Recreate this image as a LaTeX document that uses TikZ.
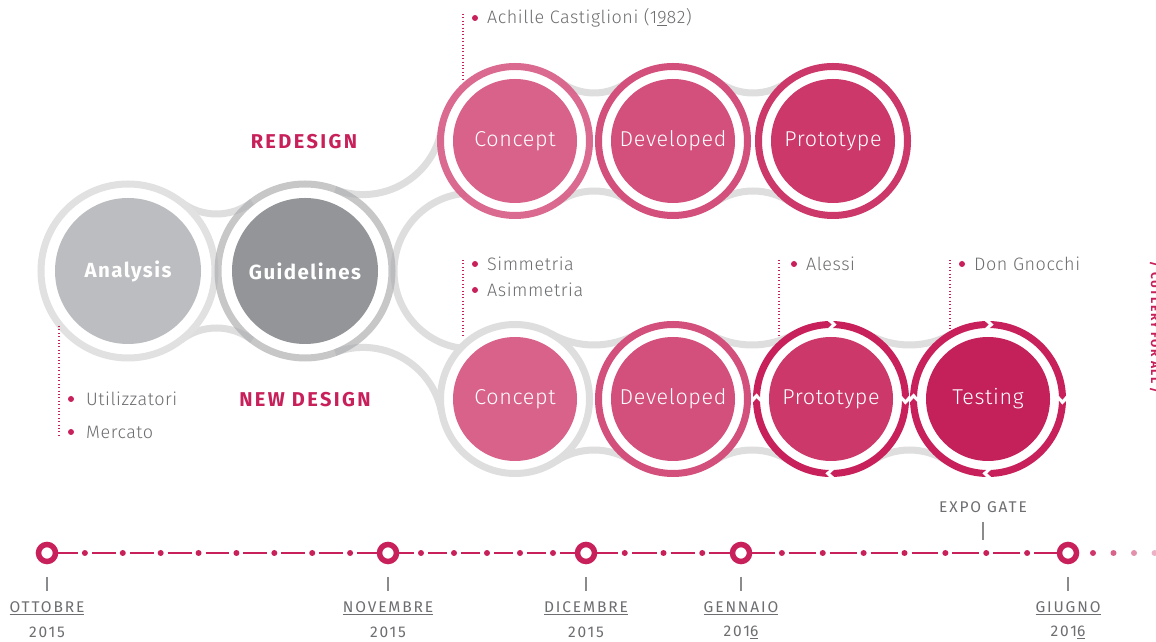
\documentclass[tikz,border=0pt]{standalone}
\usepackage{fontspec}
\setmainfont{Fira Sans}
\IfFontExistsTF{Fira Sans Light}{\newfontfamily\lightfont{Fira Sans Light}}{\newfontfamily\lightfont{Fira Sans}}
\usetikzlibrary{calc}
\definecolor{crimson}{HTML}{C8205A}
\definecolor{txtgray}{HTML}{6D6E71}
\definecolor{pipegray}{HTML}{DEDEDF}
\definecolor{anaring}{HTML}{E1E1E2}
\definecolor{anafill}{HTML}{BCBDC0}
\definecolor{guiring}{HTML}{A9AAAC}
\definecolor{guifill}{HTML}{939598}
\definecolor{pkA}{HTML}{D9628A}
\definecolor{pkB}{HTML}{D34F7C}
\definecolor{pkC}{HTML}{CB3869}
\definecolor{pkD}{HTML}{C4205A}
\definecolor{tickgray}{HTML}{8A8B8D}

% neck arcs between two beads on one row: x1 x2 y R htop hbot
\newcommand\pipeneck[6]{%
  \pgfmathsetmacro\nhd{(#2-#1)/2}%
  \pgfmathsetmacro\nxm{(#1+#2)/2}%
  \pgfmathsetmacro\nrt{(\nhd*\nhd+#5*#5-#4*#4)/(2*(#4-#5))}%
  \pgfmathsetmacro\nat{atan((#5+\nrt)/\nhd)}%
  \draw[pipe] (\nxm,{#3+#5+\nrt}) ++({180+\nat}:\nrt) arc[start angle={180+\nat}, end angle={360-\nat}, radius=\nrt];
  \pgfmathsetmacro\nrb{(\nhd*\nhd+#6*#6-#4*#4)/(2*(#4-#6))}%
  \pgfmathsetmacro\nab{atan((#6+\nrb)/\nhd)}%
  \draw[pipe] (\nxm,{#3-#6-\nrb}) ++({180-\nab}:\nrb) arc[start angle={180-\nab}, end angle={\nab}, radius=\nrb];
}
% segmented ring with arrow ends (clockwise)
\newcommand\arrowring[2]{%
  \begin{scope}[shift={(#1)}]
  \foreach \g in {90,0,-90,-180}{
    \pgfmathsetmacro\sa{\g-1.5}
    \pgfmathsetmacro\sb{\g-90+2.5}
    \fill[#2] (\sa:78) arc[start angle=\sa, end angle=\sb, radius=78] -- ({\sb-3}:74.5) -- (\sb:71) arc[start angle=\sb, end angle=\sa, radius=71] -- ({\sa-3}:74.5) -- cycle;
  }
  \end{scope}}

\begin{document}
\begin{tikzpicture}[x=1pt,y=1pt,
  pipe/.style={draw=pipegray, line width=7},
  ring/.style={line width=7},
  disc/.style={circle, inner sep=0pt},
  boldtxt/.style={text=white, font=\bfseries\fontsize{20.5}{24}\selectfont\addfontfeature{LetterSpace=7}},
  thintxt/.style={text=white, font=\lightfont\fontsize{21.5}{25}\selectfont\addfontfeature{LetterSpace=3}},
  section/.style={text=crimson, font=\bfseries\fontsize{20}{24}\selectfont\addfontfeature{LetterSpace=12}},
  note/.style={anchor=west, text=txtgray, font=\lightfont\fontsize{18}{21}\selectfont\addfontfeature{LetterSpace=3}, inner sep=0pt},
  dotline/.style={draw=crimson, line width=1.1, dash pattern=on 1.1 off 2.3},
  bullet/.style={fill=crimson},
  tl/.style={draw=crimson, line width=2.2},
  marker/.style={circle, draw=crimson, line width=5.5, fill=white, minimum size=17, inner sep=0pt},
  tick/.style={draw=tickgray, line width=1.2},
  tlabel/.style={text=txtgray, font=\fontsize{15.5}{18}\selectfont\addfontfeature{LetterSpace=12}, inner sep=0pt}
]
\useasboundingbox (0,0) rectangle (1156,642);
\clip (0,0) rectangle (1156,642);
\fill[white] (0,0) rectangle (1156,642);

% centres
\coordinate (A) at (128,371);
\coordinate (G) at (305,371);
\coordinate (C1) at (515,501);
\coordinate (D1) at (673,501);
\coordinate (P1) at (833,501);
\coordinate (C2) at (515,243);
\coordinate (D2) at (673,243);
\coordinate (P2) at (831,243);
\coordinate (T2) at (988,243);

% ---- grey pipes
\pipeneck{128}{305}{371}{87}{57}{57}
\pipeneck{515}{673}{501}{74.5}{48}{50}
\pipeneck{673}{833}{501}{74.5}{48}{50}
\pipeneck{515}{673}{243}{74.5}{54}{51}
\pipeneck{673}{831}{243}{74.5}{54}{51}
\pipeneck{831}{988}{243}{74.5}{54}{51}
\draw[pipe] (363,527.4) ++(249.65:80) arc[start angle=249.65, end angle=350.15, radius=80];
\draw[pipe] (363,214.6) ++(110.35:80) arc[start angle=110.35, end angle=9.85, radius=80];
\draw[pipe] (472,371) ++(94:78) arc[start angle=94, end angle=266, radius=78];

% ---- left group
\fill[white] (A) circle[radius=83.5];
\draw[ring, anaring] (A) circle[radius=87];
\node[disc, fill=anafill, minimum size=146, boldtxt] (analysis) at (A) {Analysis};
\fill[white] (G) circle[radius=83.5];
\draw[ring, guiring, opacity=.65] (G) circle[radius=87];
\node[disc, fill=guifill, minimum size=146, boldtxt] (guidelines) at (G) {Guidelines};

% ---- redesign row
\fill[white] (C1) circle[radius=71];
\draw[ring, pkA, opacity=.95] (C1) circle[radius=74.5];
\node[disc, fill=pkA, minimum size=124, thintxt] (concept1) at (C1) {Concept};
\fill[white] (D1) circle[radius=71];
\draw[ring, pkB] (D1) circle[radius=74.5];
\node[disc, fill=pkB, minimum size=124, thintxt] (developed1) at (D1) {Developed};
\fill[white] (P1) circle[radius=71];
\draw[ring, pkC] (P1) circle[radius=74.5];
\node[disc, fill=pkC, minimum size=124, thintxt] (prototype1) at (P1) {Prototype};

% ---- new design row
\fill[white] (C2) circle[radius=71];
\draw[ring, pipegray] (C2) circle[radius=74.5];
\node[disc, fill=pkA, minimum size=124, thintxt] (concept2) at (C2) {Concept};
\fill[white] (D2) circle[radius=71];
\draw[ring, pkB] (D2) circle[radius=74.5];
\node[disc, fill=pkB, minimum size=124, thintxt] (developed2) at (D2) {Developed};
\fill[white] (P2) circle[radius=71];
\arrowring{P2}{crimson}
\node[disc, fill=pkC, minimum size=124, thintxt] (prototype2) at (P2) {Prototype};
\fill[white] (T2) circle[radius=71];
\arrowring{T2}{crimson}
\node[disc, fill=pkD, minimum size=124, thintxt] (testing2) at (T2) {Testing};

% ---- section titles
\node[section] (redesign) at (304,500) {REDESIGN};
\node[section] (newdesign) at (305,242) {NEW DESIGN};

% ---- notes
\coordinate (n1a) at (463,628); \coordinate (n1b) at (463,562);
\draw[dotline] (n1a) -- (n1b);
\fill[bullet] (475,624) circle[radius=3];
\node[note] (achille) at (487,624) {Achille Castiglioni (1\underline{9}82)};

\coordinate (n2a) at (463,382); \coordinate (n2b) at (463,307);
\draw[dotline] (n2a) -- (n2b);
\fill[bullet] (475,378) circle[radius=3];
\node[note] (simm) at (487,378) {Simmetria};
\fill[bullet] (475,352) circle[radius=3];
\node[note] (asimm) at (487,352) {Asimmetria};

\coordinate (n3a) at (779,382); \coordinate (n3b) at (779,307);
\draw[dotline] (n3a) -- (n3b);
\fill[bullet] (794,378) circle[radius=3];
\node[note] (alessi) at (806,378) {Alessi};

\coordinate (n4a) at (950,382); \coordinate (n4b) at (950,312);
\draw[dotline] (n4a) -- (n4b);
\fill[bullet] (962,378) circle[radius=3];
\node[note] (gnocchi) at (974,378) {Don Gnocchi};

\coordinate (n5a) at (59,316); \coordinate (n5b) at (59,205);
\draw[dotline] (n5a) -- (n5b);
\fill[bullet] (71,243) circle[radius=3];
\node[note] (utiliz) at (86,243) {Utilizzatori};
\fill[bullet] (71,210) circle[radius=3];
\node[note] (mercato) at (86,210) {Mercato};

% ---- side text (cut by the right edge, as in the reference)
\node[rotate=-90, anchor=base, inner sep=0pt, text=crimson,
      font=\bfseries\fontsize{12}{14}\selectfont\addfontfeature{LetterSpace=12}] (cutlery) at (1151,314) {/ CUTLERY FOR ALL /};

% ---- timeline
\foreach \a/\b/\n in {47/388/8,388/586/5,586/741/3,741/1068/7}{
  \pgfmathsetmacro\s{(\b-\a)/(\n+1)}
  \foreach \k in {0,...,\n}{
    \draw[tl] ({\a+\k*\s+(\k>0)*7},89) -- ({\a+(\k+1)*\s-(\k<\n)*7},89);
  }
  \foreach \k in {1,...,\n}{
    \fill[crimson] ({\a+\k*\s},89) circle[radius=3];
  }
}
\fill[crimson!90] (1093,89) circle[radius=3];
\fill[crimson!70] (1113.5,89) circle[radius=3];
\fill[crimson!50] (1134,89) circle[radius=3];
\fill[crimson!35] (1154.6,89) circle[radius=3];

\foreach \x/\nm/\mo/\yr in {47/m1/OTTOBRE/2015, 388/m2/NOVEMBRE/2015, 586/m3/DICEMBRE/2015, 741/m4/GENNAIO/201\underline{6}, 1068/m5/GIUGNO/201\underline{6}}{
  \node[marker] (\nm) at (\x,89) {};
  \draw[tick] ([yshift=-24]\nm.center) -- ([yshift=-38]\nm.center);
  \node[tlabel] (\nm-lab) at (\x,34) {\underline{\mo}};
  \node[tlabel] (\nm-yr) at (\x,10) {\yr};
}
\node[tlabel] (expo) at (983,135) {EXPO GATE};
\coordinate (expoa) at (983,120); \coordinate (expob) at (983,102);
\draw[tick] (expoa) -- (expob);
\end{tikzpicture}
\end{document}
